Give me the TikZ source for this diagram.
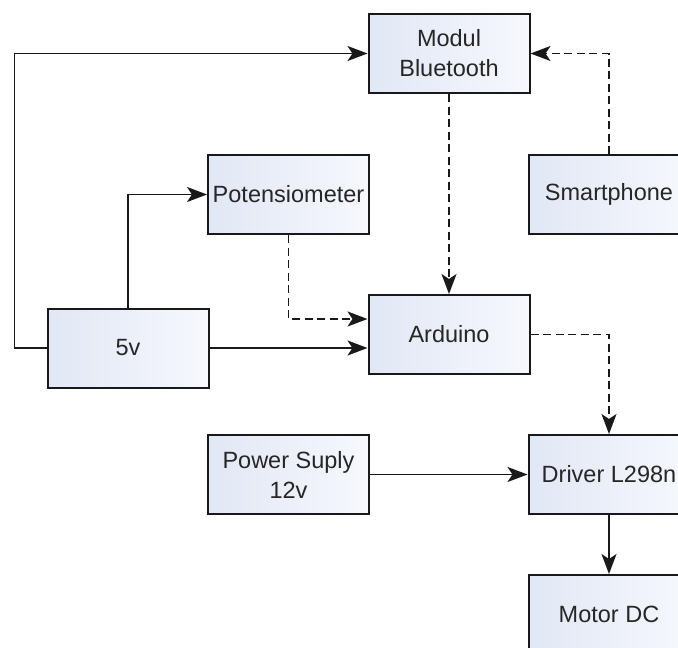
\documentclass[tikz,border=0pt]{standalone}
\usepackage{fontspec}
\setmainfont{Liberation Sans}
\usetikzlibrary{arrows.meta,calc}
\definecolor{boxl}{RGB}{226,231,245}
\definecolor{boxr}{RGB}{246,248,253}
\definecolor{edge}{RGB}{25,25,25}
\tikzset{
  blk/.style={draw=edge, line width=2pt, left color=boxl, right color=boxr,
    minimum width=161pt, minimum height=79pt, inner sep=0pt, align=center,
    font=\fontsize{23.5}{30}\selectfont, text=black!85},
  arr/.style={draw=edge, line width=1.8pt, -{Stealth[length=20pt,width=15pt,inset=5pt]}},
  darr/.style={arr, dash pattern=on 8pt off 4.5pt}
}
\begin{document}
\begin{tikzpicture}[x=1pt,y=-1pt]
\useasboundingbox (0,0) rectangle (678,648);
\clip (0,0) rectangle (678,648);
\fill[white] (0,0) rectangle (678,648);
\node[blk] (bt) at (449,53.5) {Modul\\Bluetooth};
\node[blk] (sp) at (609,194.5) {Smartphone};
\node[blk] (pot) at (288.5,194.5) {Potensiometer};
\node[blk] (v5) at (128,348) {5v};
\node[blk] (ard) at (449,334.5) {Arduino};
\node[blk] (pw) at (288.5,474.5) {Power Suply\\12v};
\node[blk] (drv) at (609,474.5) {Driver L298n};
\node[blk] (mot) at (609,614.5) {Motor DC};
\draw[arr] (v5.west) -- ++(-32,0) |- (bt.west);
\draw[arr] (v5.north) |- (pot.west);
\draw[arr] (v5.east) -- (ard.west |- v5.east);
\draw[darr] (pot.south) |- ($(ard.west)+(0,-15.5)$);
\draw[darr] (bt.south) -- (ard.north);
\draw[darr] (sp.north) |- (bt.east);
\draw[darr] (ard.east) -| (drv.north);
\draw[arr] (pw.east) -- (drv.west);
\draw[arr] (drv.south) -- (mot.north);
\end{tikzpicture}
\end{document}
